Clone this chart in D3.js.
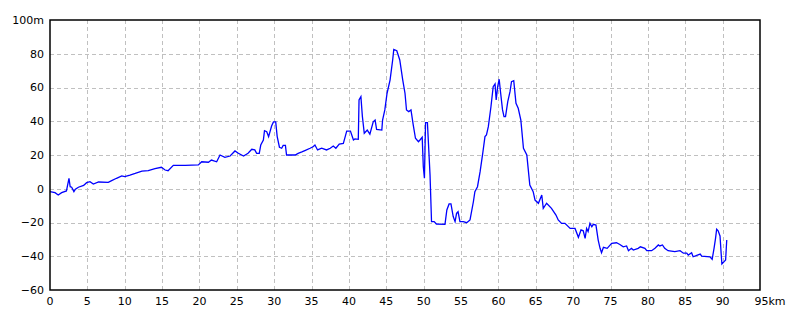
<!DOCTYPE html>
<html>
<head>
<meta charset="utf-8">
<script src="https://cdn.jsdelivr.net/npm/d3@7"></script>
<style>
  body { margin: 0; background: #fff; }
  text { font-family: "DejaVu Sans", sans-serif; font-size: 11px; }
</style>
</head>
<body>
<div id="chart"></div>
<script>
// distance along route (km) and elevation (m)
var km = [0, 0.67, 1.1, 1.56, 2.2, 2.54, 2.7, 2.9, 3.2, 3.4, 3.8, 4.5, 4.9, 5.35, 5.8, 6.5, 7.8, 8.25, 8.9, 9.6,
  10.0, 10.7, 11.4, 12.3, 13.15, 14.05, 14.9, 15.4, 15.8, 16.5, 18.1, 19.85, 20.3, 21.2, 21.6, 22.3, 22.75, 23.4, 24.1,
  24.75, 25.2, 25.9, 26.5, 27.0, 27.4, 27.65, 28.0, 28.2, 28.55, 28.7, 29.0, 29.25, 29.65, 29.9, 30.2, 30.4, 30.7,
  31.0, 31.2, 31.5, 31.65, 32.8, 33.2, 33.7, 34.1, 34.8, 35.2, 35.45, 35.8, 36.35, 37.0, 37.5, 37.9, 38.25, 38.7,
  39.25, 39.5, 39.7, 40.2, 40.6, 40.8, 41.25, 41.35, 41.6, 41.8, 42.05, 42.45, 42.8, 43.25, 43.5, 43.7, 44.4, 44.5,
  44.8, 45.1, 45.5, 45.85, 46.0, 46.4, 46.8, 47.2, 47.5, 47.7, 48.0, 48.3, 48.6, 48.9, 49.3, 49.5, 49.8, 49.95, 50.1,
  50.25, 50.5, 50.85, 51.05, 51.4, 51.7, 52.85, 53.1, 53.4, 53.65, 53.95, 54.2, 54.4, 54.6, 54.85, 55.3, 55.75, 56.2,
  56.65, 56.85, 57.2, 57.55, 57.9, 58.2, 58.4, 58.65, 59.0, 59.3, 59.55, 59.7, 59.9, 60.1, 60.3, 60.55, 60.75, 60.95,
  61.25, 61.55, 61.75, 62.05, 62.35, 62.65, 63.0, 63.35, 63.8, 64.2, 64.65, 64.9, 65.35, 65.8, 66.0, 66.45, 67.1,
  67.7, 68.0, 68.45, 68.9, 69.6, 70.25, 70.7, 71.05, 71.35, 71.6, 71.8, 72.0, 72.25, 72.5, 72.7, 73.05, 73.35, 73.6,
  73.8, 74.05, 74.55, 75.15, 75.8, 76.25, 76.7, 77.15, 77.4, 77.8, 78.05, 78.7, 79.0, 79.6, 79.85, 80.5, 80.95, 81.4,
  81.6, 81.95, 82.25, 82.7, 83.6, 84.3, 84.75, 85.2, 85.4, 85.85, 86.05, 87.0, 87.2, 88.3, 88.6, 88.85, 89.05, 89.2,
  89.4, 89.65, 89.8, 89.9, 90.2, 90.4, 90.55];
var elev = [-1.7, -2.3, -3.7, -2.3, -1.3, 6.2, 1.2, 0.9, -1.7, -0.3, 0.9, 2.0, 3.6, 4.2, 2.8, 4.0, 3.8, 4.8, 6.2, 7.6,
  7.2, 8.1, 9.1, 10.5, 10.7, 11.9, 12.7, 11.1, 10.7, 13.9, 13.9, 14.1, 16.0, 15.7, 17.0, 16.0, 20.0, 18.6, 19.4,
  22.4, 21.0, 19.4, 21.0, 23.4, 23.0, 21.0, 21.0, 25.9, 28.9, 34.4, 33.8, 30.9, 37.2, 39.6, 39.6, 30.9, 24.6,
  24.0, 25.7, 25.7, 20.0, 20.0, 21.0, 21.8, 22.6, 24.0, 24.9, 25.9, 23.0, 24.0, 23.0, 24.0, 25.3, 24.0, 26.5,
  26.9, 30.9, 34.2, 34.2, 28.9, 29.5, 29.3, 52.6, 54.6, 42.7, 32.9, 34.8, 32.4, 39.7, 40.7, 35.2, 34.8, 40.7,
  46.7, 56.6, 64.4, 76.3, 82.6, 81.8, 76.3, 64.4, 56.6, 46.7, 45.7, 46.7, 37.8, 29.9, 27.9, 28.9, 30.5, 13.1, 6.2,
  39.2, 39.2, 8.1, -19.5, -19.5, -20.9, -21.1, -12.6, -9.0, -9.0, -16.5, -19.5, -14.6, -13.6, -19.5, -19.5, -20.1, -18.5,
  -7.7, -1.7, 1.2, 10.1, 21.0, 30.9, 31.9, 36.8, 48.6, 60.5, 62.1, 52.6, 60.5, 64.9, 56.6, 46.7, 42.7, 42.7,
  51.6, 57.5, 63.4, 64.0, 50.6, 47.7, 40.7, 24.0, 20.0, 2.2, -1.7, -6.7, -8.6, -3.7, -11.6, -8.6, -11.6,
  -15.6, -18.5, -20.5, -20.5, -23.5, -23.5, -28.8, -24.4, -24.9, -29.4, -23.5, -25.4, -20.5, -22.5, -21.1, -21.5, -30.4, -35.3,
  -37.9, -34.7, -35.3, -32.4, -32.0, -33.0, -34.4, -33.9, -36.7, -35.3, -36.3, -35.3, -34.4, -35.3, -36.7, -36.7, -35.3, -33.3,
  -33.9, -33.3, -35.3, -36.7, -37.3, -36.7, -38.2, -38.2, -39.3, -37.9, -40.3, -38.7, -39.9, -40.3, -41.8, -35.3, -29.4, -24.0,
  -24.9, -28.0, -38.2, -44.6, -43.2, -42.2, -30.4];

var xTicks = d3.range(0, 96, 5);
var yTicks = d3.range(-60, 101, 20);

var margin = {top: 20, right: 40, bottom: 30, left: 50},
    width = 800 - margin.left - margin.right,
    height = 320 - margin.top - margin.bottom;

var svg = d3.select("#chart")
  .append("svg")
    .attr("width", 800)
    .attr("height", 320)
  .append("g")
    .attr("transform", "translate(" + margin.left + "," + margin.top + ")");

var x = d3.scaleLinear().domain([0, 95]).range([0, width]);
var y = d3.scaleLinear().domain([-60, 100]).range([height, 0]);

// grid
svg.selectAll(".vgrid")
  .data(xTicks.slice(1, -1))
  .enter().append("line")
    .attr("x1", d => Math.round(x(d)) + 0.5).attr("x2", d => Math.round(x(d)) + 0.5)
    .attr("y1", 0).attr("y2", height)
    .attr("stroke", "#c0c0c0")
    .attr("stroke-dasharray", "4,3");

svg.selectAll(".hgrid")
  .data(yTicks.slice(1, -1))
  .enter().append("line")
    .attr("x1", 0).attr("x2", width)
    .attr("y1", d => Math.round(y(d)) + 0.5).attr("y2", d => Math.round(y(d)) + 0.5)
    .attr("stroke", "#c0c0c0")
    .attr("stroke-dasharray", "4,3");

// profile
var line = d3.line()
  .x((d, i) => x(km[i]))
  .y(d => y(d));

svg.append("path")
  .datum(elev)
  .attr("d", line)
  .attr("fill", "none")
  .attr("stroke", "#0000ff")
  .attr("stroke-width", 1.3);

// frame
svg.append("rect")
  .attr("x", 0).attr("y", 0)
  .attr("width", width).attr("height", height)
  .attr("fill", "none")
  .attr("stroke", "#000")
  .attr("stroke-width", 1.5);

// tick labels
svg.selectAll(".ylab")
  .data(yTicks)
  .enter().append("text")
    .attr("x", -6)
    .attr("y", d => y(d))
    .attr("dy", "0.35em")
    .attr("text-anchor", "end")
    .text(d => d3.format("d")(d) + (d === 100 ? "m" : ""));

svg.selectAll(".xlab")
  .data(xTicks)
  .enter().append("text")
    .attr("x", d => x(d) + (d === 95 ? 10 : 0))
    .attr("y", height + 15)
    .attr("text-anchor", "middle")
    .text(d => d + (d === 95 ? "km" : ""));
</script>
</body>
</html>
